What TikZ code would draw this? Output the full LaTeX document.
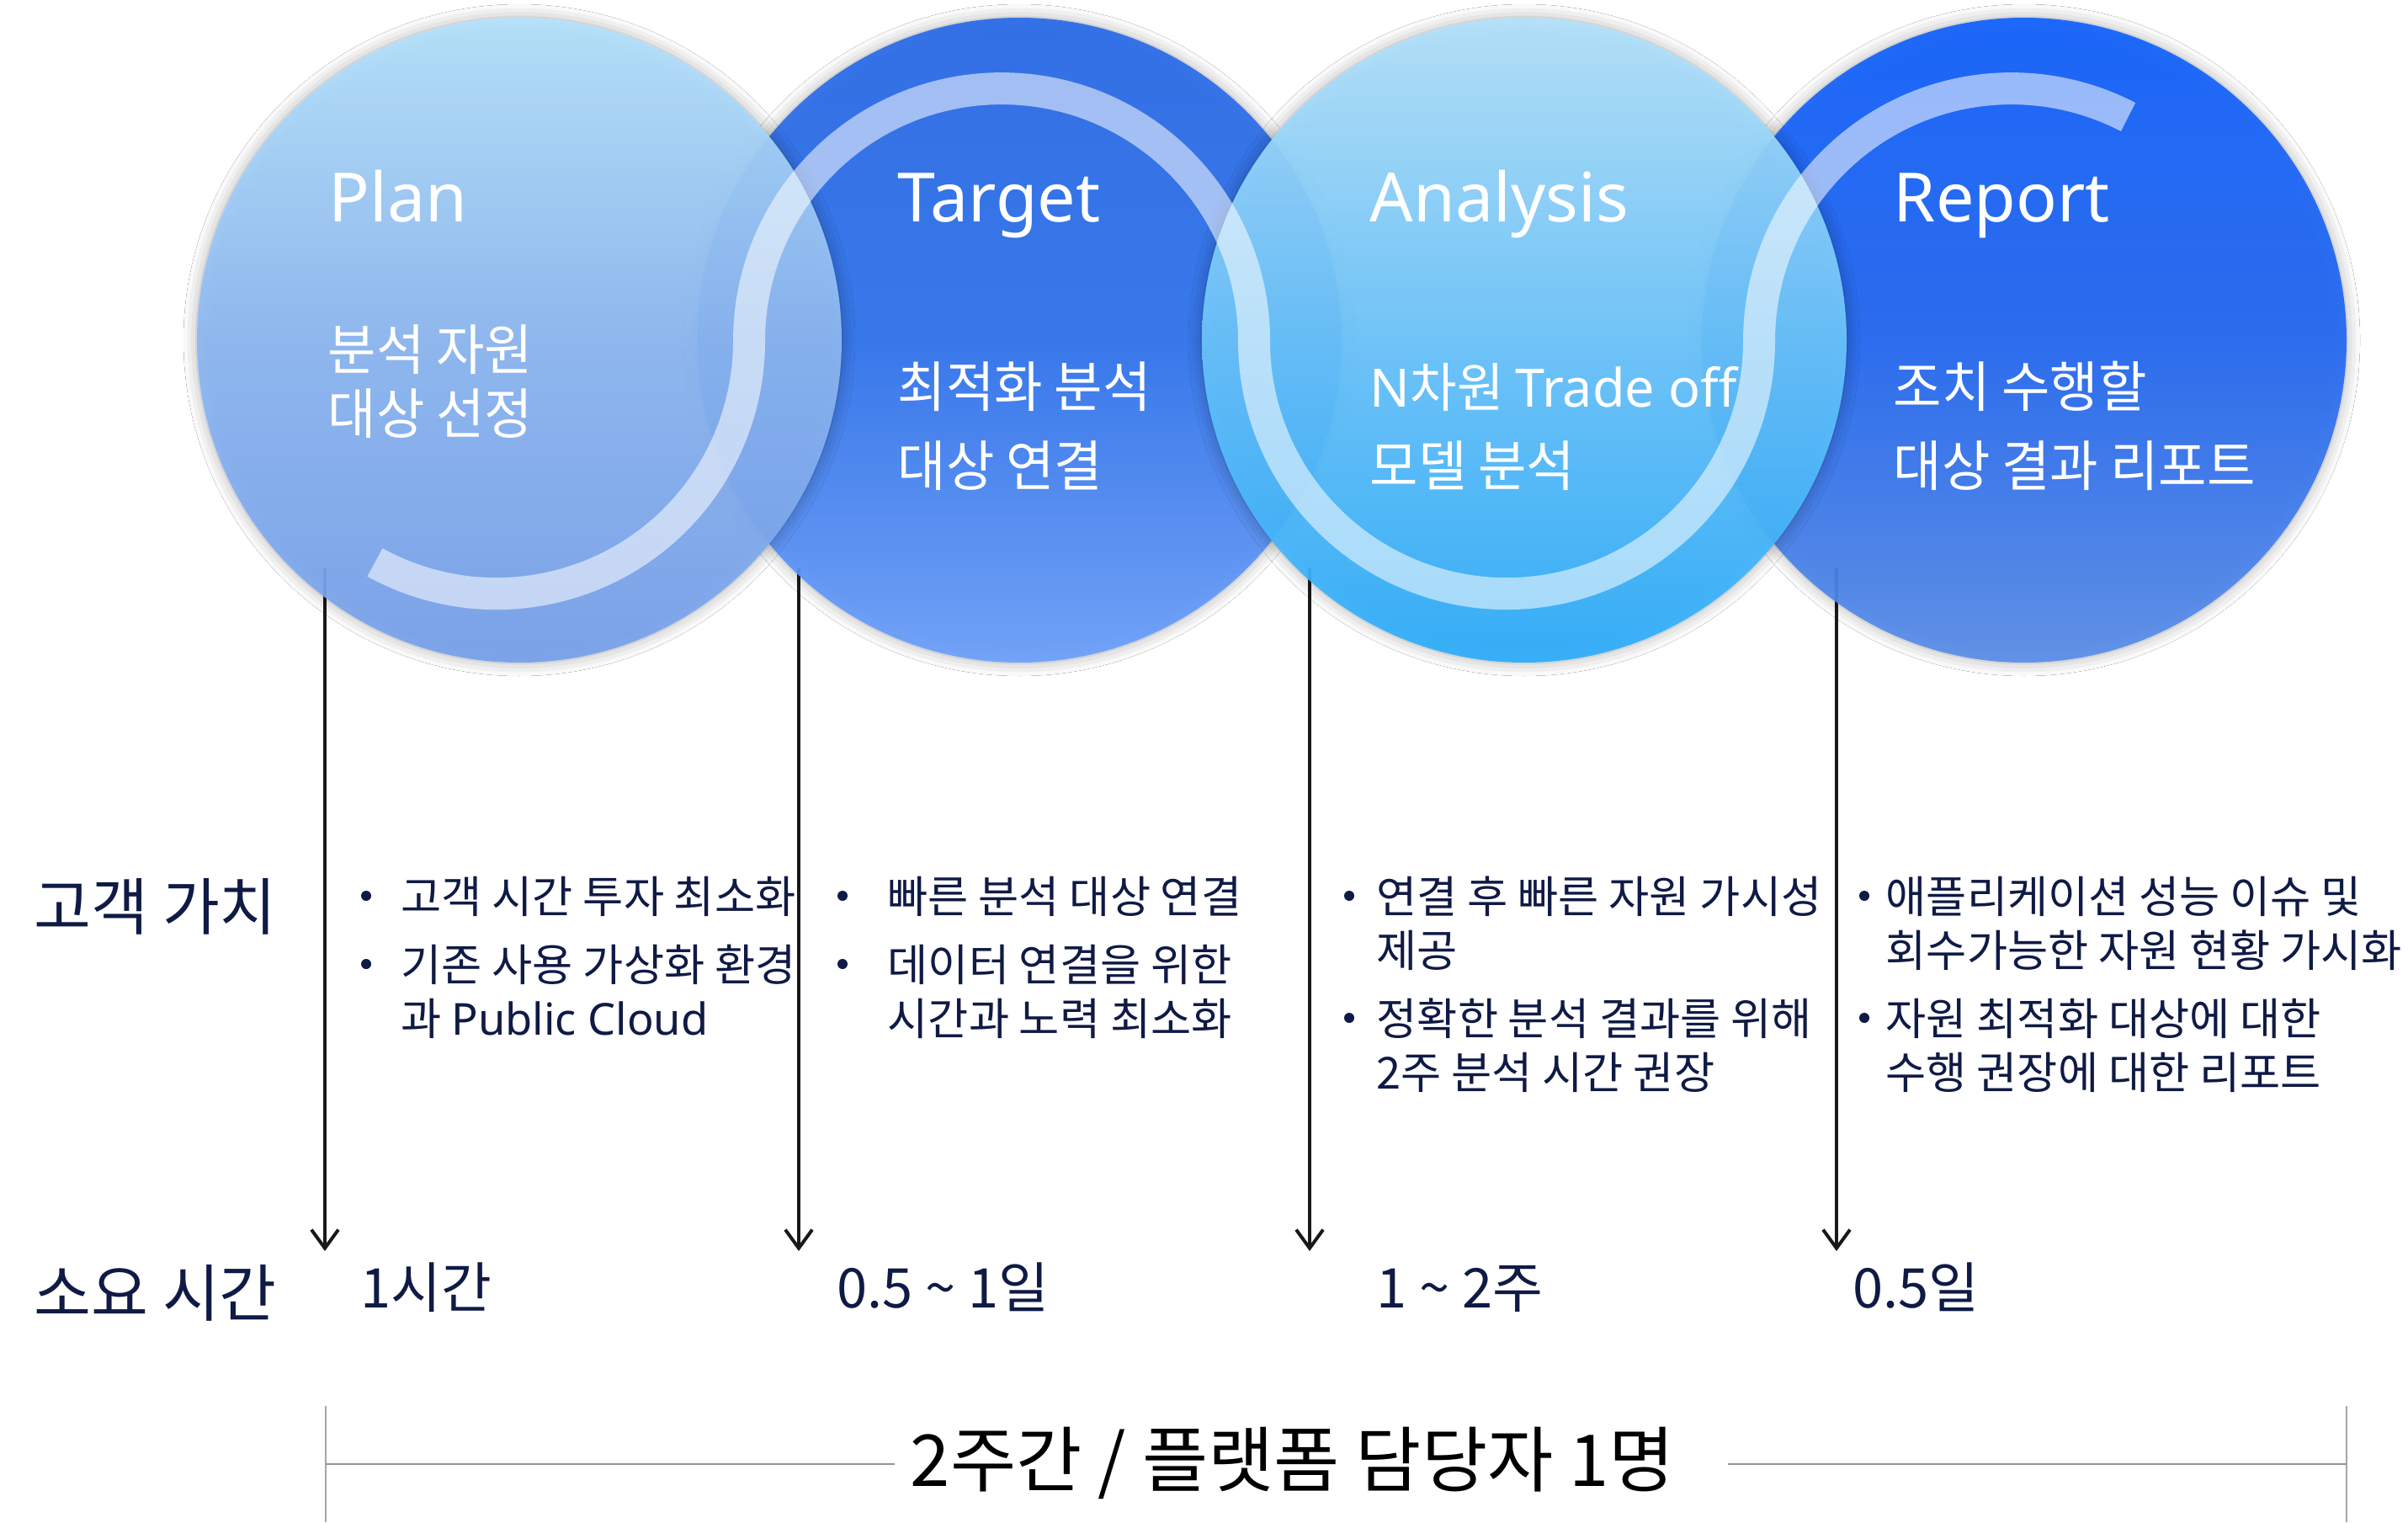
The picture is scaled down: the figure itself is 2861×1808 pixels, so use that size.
\documentclass[tikz,border=0pt]{standalone}
\usepackage{fontspec}
\setmainfont{Noto Sans CJK KR}
\newfontfamily\krc{Noto Sans CJK KR}[FakeStretch=0.96]
\newfontfamily\ns{Noto Sans}
\usetikzlibrary{shadows.blur,arrows.meta}
\definecolor{navy}{HTML}{0F1A45}
\definecolor{plantop}{HTML}{B5E3FD}
\definecolor{planmid}{HTML}{8DB8F3}
\definecolor{planbot}{HTML}{77A1EC}
\definecolor{tartop}{HTML}{2A6BE9}
\definecolor{tarmid}{HTML}{3074EF}
\definecolor{tarbot}{HTML}{6DA1FC}
\definecolor{anatop}{HTML}{B4E2FC}
\definecolor{anamid}{HTML}{6BC5FD}
\definecolor{anabot}{HTML}{2CADFC}
\definecolor{reptop}{HTML}{1161FE}
\definecolor{repmid}{HTML}{2368F2}
\definecolor{repbot}{HTML}{5B8FE9}
\begin{document}
\begin{tikzpicture}[x=0.1mm,y=-0.1mm,
  stage/.style={circle, minimum size=76.6mm, inner sep=0pt, opacity=0.93,
    blur shadow={shadow xshift=0mm, shadow yshift=0mm, shadow blur radius=1.6mm, shadow opacity=35, shadow scale=1.0}},
  title/.style={anchor=base west, inner sep=0pt, text=white, font=\ns\fontsize{23}{28}\selectfont},
  ctext/.style={anchor=base west, inner sep=0pt, text=white, font=\krc\fontsize{18.5}{22}\selectfont},
  rowlabel/.style={anchor=base west, inner sep=0pt, text=navy, font=\fontsize{21}{25}\selectfont},
  btext/.style={anchor=base west, inner sep=0pt, text=navy, font=\fontsize{14.9}{18}\selectfont},
  ttext/.style={anchor=base west, inner sep=0pt, text=navy, font=\fontsize{18.5}{22}\selectfont},
  dot/.style={circle, fill=navy, inner sep=0pt, minimum size=1.2mm},
  arrowline/.style={draw=black!90, line width=0.4mm, -{Straight Barb[length=2.2mm,width=3.2mm]}},
  band/.style={draw=white, draw opacity=0.55, line width=3.8mm, line cap=butt},
  rule/.style={draw=black!42, line width=0.28mm},
  tick/.style={draw=black!35, line width=0.15mm}
]
\fill[white] (0,0) rectangle (2861,1808);

% arrows (under the circles)
\coordinate (a1s) at (386,675);  \coordinate (a1e) at (386,1486);
\coordinate (a2s) at (949,675);  \coordinate (a2e) at (949,1486);
\coordinate (a3s) at (1556,675); \coordinate (a3e) at (1556,1486);
\coordinate (a4s) at (2182,675); \coordinate (a4e) at (2182,1486);
\draw[arrowline] (a1s) -- (a1e);
\draw[arrowline] (a2s) -- (a2e);
\draw[arrowline] (a3s) -- (a3e);
\draw[arrowline] (a4s) -- (a4e);

% circles
\node[stage, top color=tartop, bottom color=tarbot, middle color=tarmid] (ctarget) at (1211,404) {};
\node[stage, top color=reptop, bottom color=repbot, middle color=repmid] (creport) at (2405,404) {};
\node[stage, top color=plantop, bottom color=planbot, middle color=planmid] (cplan) at (617,404) {};
\node[stage, top color=anatop, bottom color=anabot, middle color=anamid] (canalysis) at (1811,404) {};

% S band
\coordinate (bandstart) at (445.5,668);
\draw[band] (bandstart) arc[start angle=-118.8, end angle=0, radius=30mm]
  arc[start angle=-180, end angle=-360, radius=30mm]
  arc[start angle=-180, end angle=0, radius=30mm]
  arc[start angle=-180, end angle=-297.5, radius=30mm];

% circle texts
\node[title] (tplan) at (390,264) {Plan};
\node[title] (ttarget) at (1066,264) {Target};
\node[title] (tanalysis) at (1627,264) {Analysis};
\node[title] (treport) at (2249,264) {Report};
\node[ctext] (p1) at (389,440) {분석 자원};
\node[ctext] (p2) at (389,515) {대상 선정};
\node[ctext] (t1) at (1066,484) {최적화 분석};
\node[ctext] (t2) at (1066,577) {대상 연결};
\node[ctext, font=\krc\fontsize{17.9}{22}\selectfont] (n1) at (1627,484) {{\ns N}차원 {\ns Trade off}};
\node[ctext] (n2) at (1627,577) {모델 분석};
\node[ctext] (r1) at (2249,484) {조치 수행할};
\node[ctext] (r2) at (2249,577) {대상 결과 리포트};

% row labels
\node[rowlabel] (lval) at (40,1104) {고객 가치};
\node[rowlabel] (ltime) at (40,1563) {소요 시간};

% column 1
\node[dot] (d11) at (435,1064) {};
\node[btext] (c11) at (476,1084) {고객 시간 투자 최소화};
\node[dot] (d12) at (435,1145) {};
\node[btext] (c12) at (476,1165) {기존 사용 가상화 환경};
\node[btext] (c13) at (476,1229) {과 {\ns Public Cloud}};
% column 2
\node[dot] (d21) at (1001,1064) {};
\node[btext] (c21) at (1054,1084) {빠른 분석 대상 연결};
\node[dot] (d22) at (1001,1145) {};
\node[btext] (c22) at (1054,1165) {데이터 연결을 위한};
\node[btext] (c23) at (1054,1229) {시간과 노력 최소화};
% column 3
\node[dot] (d31) at (1603,1064) {};
\node[btext] (c31) at (1635,1084) {연결 후 빠른 자원 가시성};
\node[btext] (c32) at (1635,1148) {제공};
\node[dot] (d32) at (1603,1209) {};
\node[btext] (c33) at (1635,1229) {정확한 분석 결과를 위해};
\node[btext] (c34) at (1635,1293) {2주 분석 시간 권장};
% column 4
\node[dot] (d41) at (2215,1064) {};
\node[btext] (c41) at (2240,1084) {애플리케이션 성능 이슈 및};
\node[btext] (c42) at (2240,1148) {회수가능한 자원 현황 가시화};
\node[dot] (d42) at (2215,1209) {};
\node[btext] (c43) at (2240,1229) {자원 최적화 대상에 대한};
\node[btext] (c44) at (2240,1293) {수행 권장에 대한 리포트};

% times
\node[ttext] (h1) at (428,1553) {1시간};
\node[ttext] (h2) at (994,1553) {0.5 \textasciitilde{} 1일};
\node[ttext] (h3) at (1635,1553) {1 \textasciitilde{} 2주};
\node[ttext] (h4) at (2201,1553) {0.5일};

% bottom span
\coordinate (sl) at (387,1739); \coordinate (sr) at (2788,1739);
\coordinate (slt) at (387,1670); \coordinate (slb) at (387,1808);
\coordinate (srt) at (2788,1670); \coordinate (srb) at (2788,1808);
\node[anchor=base, inner sep=0pt, text=black, font=\fontsize{24.2}{29}\selectfont] (total) at (1536,1765) {2주간 / 플랫폼 담당자 1명};
\coordinate (tl) at (1063,1739); \coordinate (tr) at (2053,1739);
\draw[tick] (slt) -- (slb);
\draw[tick] (srt) -- (srb);
\draw[rule] (sl) -- (tl);
\draw[rule] (tr) -- (sr);
\end{tikzpicture}
\end{document}
